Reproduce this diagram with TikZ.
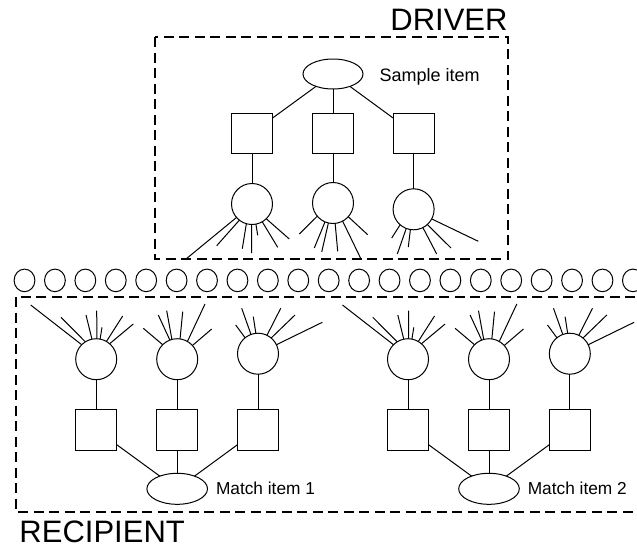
\documentclass[tikz,border=0pt]{standalone}
\usepackage{fontspec}
\setmainfont{Liberation Sans}
\usetikzlibrary{shapes.geometric}
\begin{document}
\begin{tikzpicture}[x=1pt,y=-1pt, line width=1pt,
  box/.style={draw, dash pattern=on 10pt off 5.5pt, line width=2.1pt},
  sq/.style={draw, rectangle, minimum width=41pt, minimum height=40pt, inner sep=0pt, outer sep=0pt},
  cir/.style={draw, circle, minimum size=41pt, inner sep=0pt, outer sep=0pt},
  ell/.style={draw, ellipse, minimum width=60pt, minimum height=30pt, inner sep=0pt, outer sep=0pt},
  mell/.style={ell, minimum width=60.6pt, minimum height=31pt},
  bead/.style={draw, ellipse, minimum width=20.8pt, minimum height=22.6pt, inner sep=0pt, outer sep=0pt},
  big/.style={font=\fontsize{31}{31}\selectfont, inner sep=0pt},
  lbl/.style={font=\fontsize{18}{18}\selectfont, inner sep=0pt},
  mlbl/.style={font=\fontsize{17.3}{17.3}\selectfont, inner sep=0pt}]
\useasboundingbox (0,0) rectangle (637,547);
\clip (0,0) rectangle (637,547);

% ---------------- DRIVER ----------------
\draw[box] (155,37) rectangle (508,259);
\node[big, anchor=base east] (drv) at (508,30) {DRIVER};
\node[ell] (se) at (333,74) {};
\node[lbl, anchor=base west] (st) at (379,81.7) {Sample item};
\node[sq] (d1) at (252,133) {};
\node[sq] (d2) at (333,133) {};
\node[sq] (d3) at (413.6,133) {};
\node[cir] (dc1) at (252,204) {};
\node[cir] (dc2) at (333,203) {};
\node[cir] (dc3) at (413.6,209.3) {};
\draw (se) -- (d1);
\draw (se) -- (d2);
\draw (se) -- (d3);
\draw (d1) -- (dc1);
\draw (d2) -- (dc2);
\draw (d3) -- (dc3);
\foreach \a/\x/\y in {221/186/259, 232/216.7/245.7, 254/242.3/248.7, 269/251.7/253,
                      281/257.7/235.3, 300/277.7/247.3, 314/289.3/239}
  \draw (dc1.\a) -- (\x,\y);
\foreach \a/\x/\y in {220/299.3/234, 247/314.3/248, 257/321.7/252, 276/337.7/251.3,
                      298.5/361/259, 318.6/367.7/234.7}
  \draw (dc2.\a) -- (\x,\y);
\foreach \a/\x/\y in {229/391.7/238, 249/397.3/254, 261/408.3/247, 297/436.7/254,
                      312/451/248, 332/478.3/241.3}
  \draw (dc3.\a) -- (\x,\y);

% ---------------- beads ----------------
\foreach \i in {0,...,20}
  \node[bead] (b\i) at ({24.5+30.42*\i},280.4) {};

% ---------------- RECIPIENT ----------------
\draw[box] (16,297) rectangle (700,511.7);
\node[big, anchor=base west] (rec) at (19,542) {RECIPIENT};

\foreach \g/\dx/\txt in {1/0/{Match item 1}, 2/311.8/{Match item 2}} {
  \begin{scope}[xshift=\dx pt]
    \node[cir] (r\g c1) at (96.2,359.2) {};
    \node[cir] (r\g c2) at (177.2,359.2) {};
    \node[cir] (r\g c3) at (258,353.7) {};
    \node[sq, minimum height=41pt] (r\g s1) at (96.2,429.7) {};
    \node[sq, minimum height=41pt] (r\g s2) at (177.2,429.7) {};
    \node[sq, minimum height=41pt] (r\g s3) at (258,429.7) {};
    \node[mell] (r\g e) at (177.2,488.8) {};
    \node[mlbl, anchor=base west] (r\g t) at (215.5,494) {\txt};
    \draw (r\g c1) -- (r\g s1);
    \draw (r\g c2) -- (r\g s2);
    \draw (r\g c3) -- (r\g s3);
    \draw (r\g s1) -- (r\g e);
    \draw (r\g s2) -- (r\g e);
    \draw (r\g s3) -- (r\g e);
    \foreach \a/\x/\y in {135.6/30.7/305, 122.6/61/317.3, 102.7/86/315, 88.6/96.7/310.7,
                          79.3/102/327.3, 60.4/122.7/316, 49/133.3/324}
      \draw (r\g c1.\a) -- (\x,\y);
    \foreach \a/\x/\y in {135.6/143.3/328.3, 111.7/158.3/315, 105.2/166.7/310.7,
                          82.1/182.7/311.7, 60/205/304, 42.8/211.7/329}
      \draw (r\g c2.\a) -- (\x,\y);
    \foreach \a/\x/\y in {129.5/235.7/325, 110.3/241.7/308.3, 96.4/253.3/316.7,
                          64.6/280.7/308.3, 50.3/295/315, 26.7/322.3/322.3}
      \draw (r\g c3.\a) -- (\x,\y);
  \end{scope}
}
\end{tikzpicture}
\end{document}
